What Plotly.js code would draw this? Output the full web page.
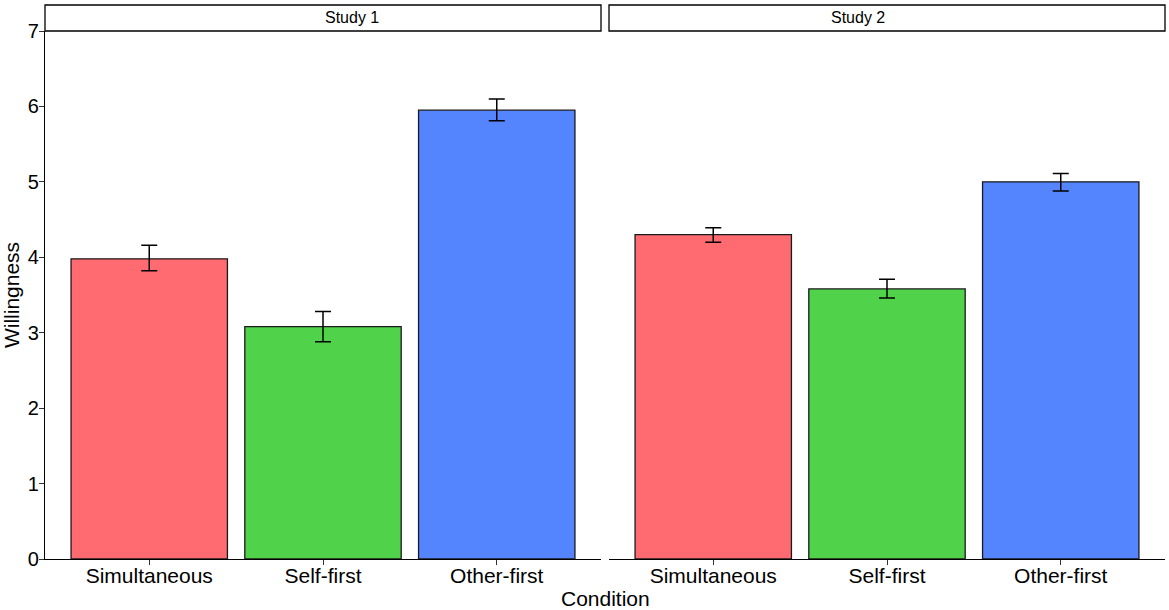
<!DOCTYPE html>
<html>
<head>
<meta charset="utf-8">
<script src="https://cdn.plot.ly/plotly-3.0.1.min.js"></script>
<style>
  html, body { margin: 0; padding: 0; background: #fff; }
  #plot { width: 1169px; height: 610px; }
</style>
</head>
<body>
<div id="plot"></div>
<script>
// data
const conditions = ['Simultaneous', 'Self-first', 'Other-first'];
const studies = ['Study 1', 'Study 2'];
const study1_mean = [3.98, 3.08, 5.95];
const study1_hi   = [4.16, 3.28, 6.10];
const study1_lo   = [3.82, 2.88, 5.81];
const study2_mean = [4.30, 3.58, 5.00];
const study2_hi   = [4.39, 3.71, 5.11];
const study2_lo   = [4.20, 3.46, 4.88];
const barColors = ['#FF6B70', '#50D34B', '#5584FF'];

const fontFamily = 'Liberation Sans, Arial, Helvetica, sans-serif';

function bar_create(mean, hi, lo, xaxis) 
{
    return {
        type: 'bar',
        x: conditions,
        y: mean,
        xaxis: xaxis,
        yaxis: 'y',
        width: 0.9,
        marker: {color: barColors, line: {color: '#1a1a1a', width: 1.3}},
        error_y: {
            type: 'data',
            symmetric: false,
            array: hi.map((v, i) => v - mean[i]),
            arrayminus: lo.map((v, i) => mean[i] - v),
            color: '#000',
            thickness: 1.5,
            width: 8,
        },
        hoverinfo: 'x+y',
        showlegend: false,
    };
}

let traces = [];
traces.push( bar_create(study1_mean, study1_hi, study1_lo, 'x') );
traces.push( bar_create(study2_mean, study2_hi, study2_lo, 'x2') );

const dom1 = [0, 556 / 1120];
const dom2 = [564 / 1120, 1];
const stripTop = 1 + 26 / 528;

function xaxis_create(domain) 
{
    return {
        domain: domain,
        anchor: 'y',
        range: [-0.6, 2.6],
        showline: true, linecolor: '#000', linewidth: 1.3,
        ticks: 'outside', ticklen: 5, tickcolor: '#333', tickwidth: 1.2,
        ticklabelstandoff: -7,
        tickfont: {family: fontFamily, size: 21, color: '#000'},
        showgrid: false, zeroline: false,
        fixedrange: true,
    };
}

function strip_create(domain) 
{
    return {
        type: 'rect', xref: 'paper', yref: 'paper',
        x0: domain[0], x1: domain[1], y0: 1, y1: stripTop,
        line: {color: '#000', width: 1.3}, fillcolor: '#fff',
    };
}

let layout = {
    width: 1169, height: 610,
    margin: {l: 45, r: 4, t: 31, b: 51},
    paper_bgcolor: '#fff', plot_bgcolor: '#fff',
    font: {family: fontFamily, color: '#000'},
    bargap: 0.1,
    xaxis: xaxis_create(dom1),
    xaxis2: xaxis_create(dom2),
    yaxis: {
        domain: [0, 1],
        anchor: 'x',
        range: [0, 7],
        tickvals: [0, 1, 2, 3, 4, 5, 6, 7],
        showline: true, linecolor: '#000', linewidth: 1.3,
        ticks: 'outside', ticklen: 5, tickcolor: '#333', tickwidth: 1.2,
        ticklabelstandoff: -4,
        tickfont: {family: fontFamily, size: 20, color: '#000'},
        showgrid: false, zeroline: false,
        title: {text: 'Willingness', font: {size: 21}, standoff: 10},
        fixedrange: true,
    },
    shapes: [ strip_create(dom1), strip_create(dom2) ],
    annotations: [
        {text: studies[0], xref: 'paper', yref: 'paper', x: (dom1[0] + dom1[1]) / 2, y: (1 + stripTop) / 2,
         showarrow: false, font: {size: 16}, yanchor: 'middle'},
        {text: studies[1], xref: 'paper', yref: 'paper', x: (dom2[0] + dom2[1]) / 2, y: (1 + stripTop) / 2,
         showarrow: false, font: {size: 16}, yanchor: 'middle'},
        {text: 'Condition', xref: 'paper', yref: 'paper', x: 0.5, y: -39 / 528,
         showarrow: false, font: {size: 21}, yanchor: 'middle'},
    ],
};

let config = {displayModeBar: false, staticPlot: false};

Plotly.newPlot('plot', traces, layout, config);
</script>
</body>
</html>
